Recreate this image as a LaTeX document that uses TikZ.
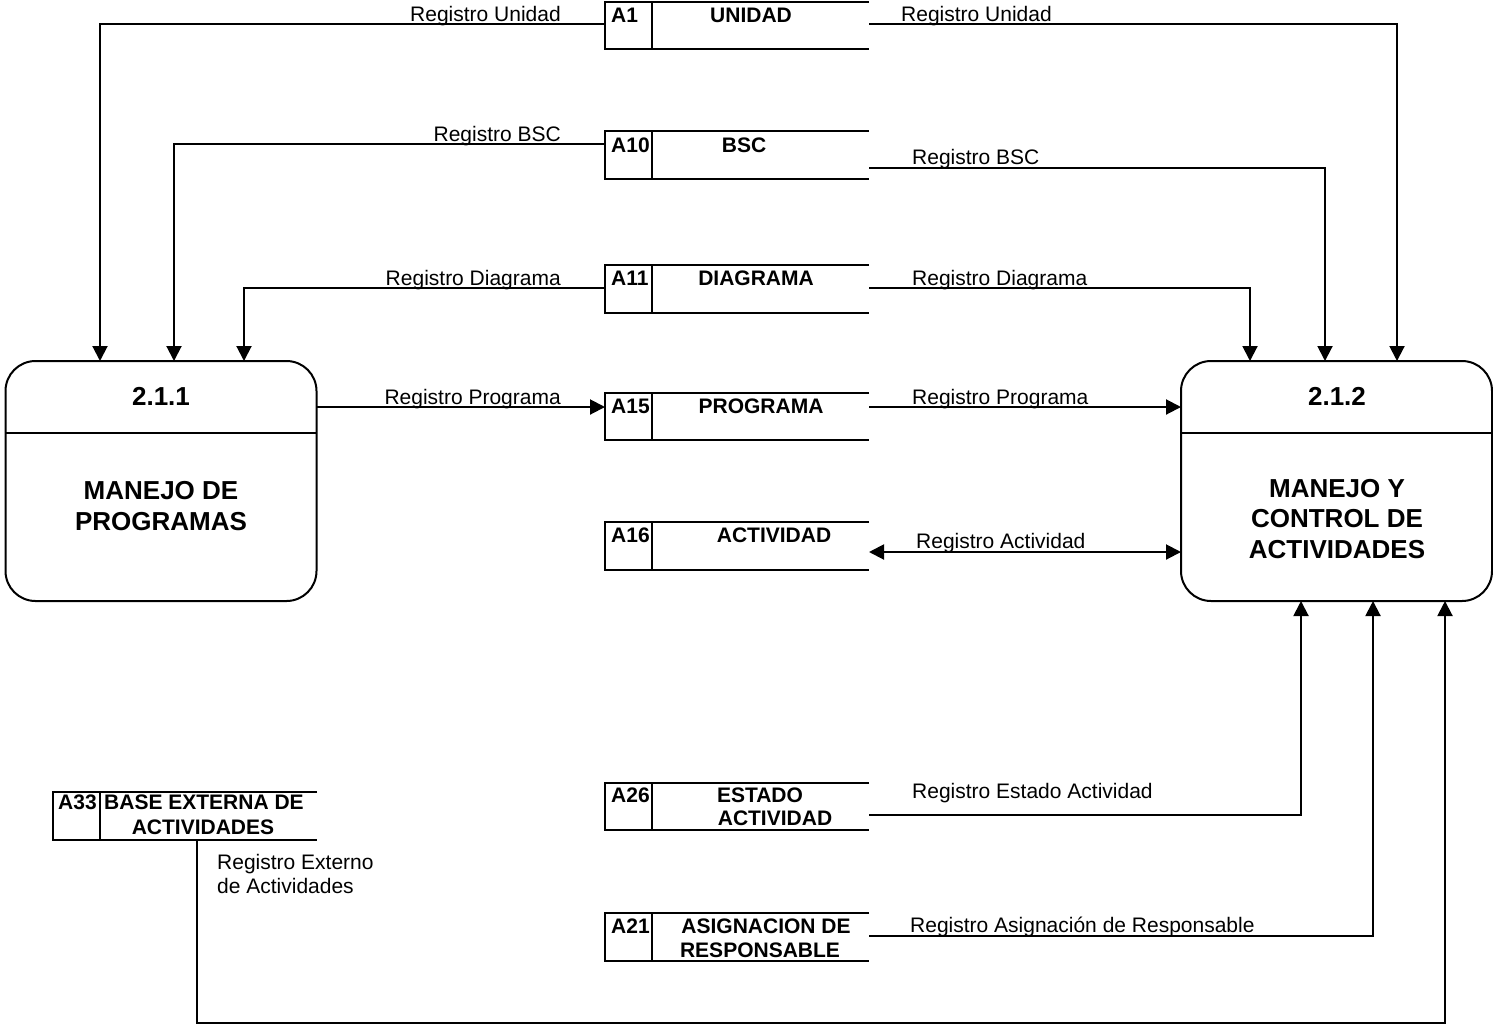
\documentclass[tikz,border=0pt]{standalone}
\usepackage{fontspec}
\setmainfont{Liberation Sans}
\usetikzlibrary{arrows.meta}
\tikzset{
  flow/.style={line width=2pt, -{Triangle[length=15pt,width=15pt]}},
  flowboth/.style={line width=2pt, {Triangle[length=15pt,width=15pt]}-{Triangle[length=15pt,width=15pt]}},
  plain/.style={line width=2pt},
  storebox/.style={minimum width=264pt, minimum height=47.5pt, inner sep=0pt, outer sep=0pt},
  sid/.style={font=\fontsize{21}{24}\selectfont\bfseries, inner sep=0pt, anchor=base west},
  stitle/.style={font=\fontsize{21}{24}\selectfont\bfseries, inner sep=0pt, anchor=base},
  flbl/.style={font=\fontsize{21}{24}\selectfont, inner sep=0pt},
  procbox/.style={draw, line width=2pt, rounded corners=30pt, minimum width=311pt, minimum height=240pt, inner sep=0pt, outer sep=0pt},
  ptitle/.style={font=\fontsize{26}{30}\selectfont\bfseries, inner sep=0pt, anchor=base},
}
\begin{document}
\begin{tikzpicture}[x=1pt,y=-1pt]
\useasboundingbox (0,0) rectangle (1493,1026);

% ---------- data stores ----------
\node[storebox] (a1)  at (737,25.5)  {};
\node[storebox] (a10) at (737,155)   {};
\node[storebox] (a11) at (737,289)   {};
\node[storebox] (a15) at (737,416.5) {};
\node[storebox] (a16) at (737,546)   {};
\node[storebox] (a26) at (737,806.5) {};
\node[storebox] (a21) at (737,937)   {};
\node[storebox] (a33) at (185,816)   {};
\foreach \s in {a1,a10,a11,a15,a16,a26,a21,a33}{
  \draw[plain] (\s.north east) -- (\s.north west) -- (\s.south west) -- (\s.south east);
  \draw[plain] ([xshift=47pt]\s.north west) -- ([xshift=47pt]\s.south west);
}

\node[sid] (a1id)  at (611,22)  {A1};
\node[stitle] (a1t) at (751,22) {UNIDAD};
\node[sid] (a10id) at (611,152) {A10};
\node[stitle] (a10t) at (744,152) {BSC};
\node[sid] (a11id) at (611,285) {A11};
\node[stitle] (a11t) at (756,285) {DIAGRAMA};
\node[sid] (a15id) at (611,413) {A15};
\node[stitle] (a15t) at (761,413) {PROGRAMA};
\node[sid] (a16id) at (611,542) {A16};
\node[stitle] (a16t) at (774,542) {ACTIVIDAD};
\node[sid] (a26id) at (611,802) {A26};
\node[stitle] (a26t1) at (760,802) {ESTADO};
\node[stitle] (a26t2) at (775,825) {ACTIVIDAD};
\node[sid] (a21id) at (611,933) {A21};
\node[stitle] (a21t1) at (766,933) {ASIGNACION DE};
\node[stitle] (a21t2) at (760,957) {RESPONSABLE};
\node[sid] (a33id) at (58,809) {A33};
\node[stitle] (a33t1) at (204,809) {BASE EXTERNA DE};
\node[stitle] (a33t2) at (203,834) {ACTIVIDADES};

% ---------- processes ----------
\node[procbox] (p211) at (161,481) {};
\node[procbox] (p212) at (1336.5,481) {};
\draw[plain] (p211.west |- 0,433) -- (p211.east |- 0,433);
\draw[plain] (p212.west |- 0,433) -- (p212.east |- 0,433);
\node[ptitle] (p211n) at (161,405) {2.1.1};
\node[ptitle] (p211a) at (161,499) {MANEJO DE};
\node[ptitle] (p211b) at (161,530) {PROGRAMAS};
\node[ptitle] (p212n) at (1337,405) {2.1.2};
\node[ptitle] (p212a) at (1337,497) {MANEJO Y};
\node[ptitle] (p212b) at (1337,527.5) {CONTROL DE};
\node[ptitle] (p212c) at (1337,558) {ACTIVIDADES};

% ---------- flows ----------
\draw[flow] (a1.west |- 0,24) -| (p211.north -| 100,0);
\draw[flow] (a1.east |- 0,24) -| (p212.north -| 1397,0);
\draw[flow] (a10.west |- 0,144) -| (p211.north -| 174,0);
\draw[flow] (a10.east |- 0,168) -| (p212.north -| 1325,0);
\draw[flow] (a11.west |- 0,288) -| (p211.north -| 244,0);
\draw[flow] (a11.east |- 0,288) -| (p212.north -| 1250,0);
\draw[flow] (p211.east |- 0,407) -- (a15.west |- 0,407);
\draw[flow] (a15.east |- 0,407) -- (p212.west |- 0,407);
\draw[flowboth] (a16.east |- 0,552) -- (p212.west |- 0,552);
\draw[flow] (a26.east |- 0,815) -| (p212.south -| 1301,0);
\draw[flow] (a21.east |- 0,936) -| (p212.south -| 1373,0);
\coordinate (c33) at (1445,1023);
\draw[flow] (a33.south -| 197,0) |- (c33) -- (p212.south -| c33);

% ---------- flow labels ----------
\node[flbl, anchor=base east] (l1) at (561,21) {Registro Unidad};
\node[flbl, anchor=base west] (l2) at (901,21) {Registro Unidad};
\node[flbl, anchor=base east] (l3) at (561,141) {Registro BSC};
\node[flbl, anchor=base west] (l4) at (912,164) {Registro BSC};
\node[flbl, anchor=base east] (l5) at (561,285) {Registro Diagrama};
\node[flbl, anchor=base west] (l6) at (912,285) {Registro Diagrama};
\node[flbl, anchor=base east] (l7) at (561,404) {Registro Programa};
\node[flbl, anchor=base west] (l8) at (912,404) {Registro Programa};
\node[flbl, anchor=base west] (l9) at (916,548) {Registro Actividad};
\node[flbl, anchor=base west] (l10) at (912,798) {Registro Estado Actividad};
\node[flbl, anchor=base west] (l11) at (910,932) {Registro Asignación de Responsable};
\node[flbl, anchor=base west] (l12) at (217,869) {Registro Externo};
\node[flbl, anchor=base west] (l13) at (217,893) {de Actividades};
\end{tikzpicture}
\end{document}
